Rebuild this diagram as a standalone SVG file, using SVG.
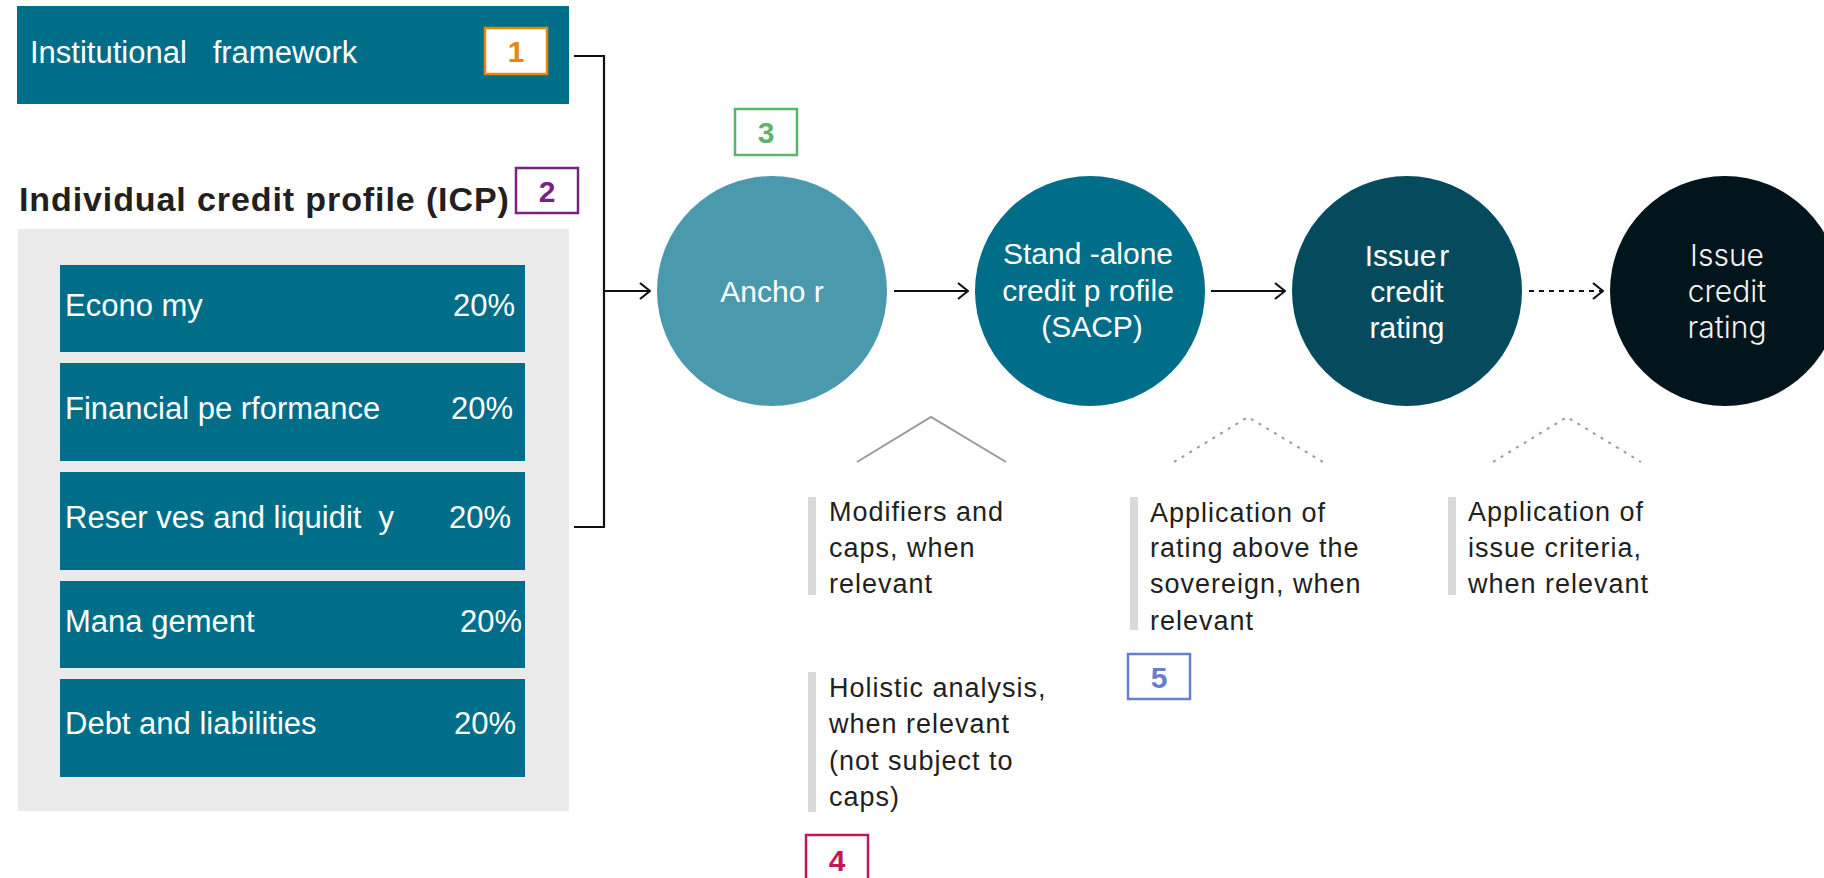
<svg xmlns="http://www.w3.org/2000/svg" width="1824" height="878" viewBox="0 0 1824 878">
<style>
.bx{fill:#016E89}
.lbl{font-family:"Liberation Sans",Arial,sans-serif;font-size:31px;fill:#fff}
.num{font-family:"Liberation Sans",Arial,sans-serif;font-size:30px;font-weight:bold;text-anchor:middle}
.nb{fill:#fff;stroke-width:2.5}
.ctx{font-family:"Liberation Sans",Arial,sans-serif;font-size:30px;fill:#fff;text-anchor:middle}
.ictx{font-family:Inter,"Liberation Sans",sans-serif;font-weight:300;font-size:30px;fill:#F2F2F2;text-anchor:middle}
.ann{font-family:"Liberation Sans",Arial,sans-serif;font-size:27px;fill:#231F20;letter-spacing:1px}
.bar{fill:#D9D9D9}
.ln{fill:none;stroke:#111;stroke-width:2.2}
.caret{fill:none;stroke:#9A9A9A;stroke-width:2}
</style>
<defs>
<marker id="ah" viewBox="0 0 12 18" refX="11" refY="9" markerWidth="12" markerHeight="18" markerUnits="userSpaceOnUse" orient="auto">
<path d="M1,1 L11,9 L1,17" fill="none" stroke="#111" stroke-width="2.2"/>
</marker>
</defs>
<rect width="1824" height="878" fill="#fff"/>

<g id="institutional-framework">
<rect class="bx" x="17" y="6" width="552" height="98"/>
<text class="lbl" x="30" y="63" xml:space="preserve">Institutional   framework</text>
</g>
<g id="badge-1">
<rect class="nb" x="485" y="28" width="62" height="46" stroke="#E8850C"/>
<text class="num" x="516" y="62" fill="#E8850C">1</text>
</g>

<g id="icp-heading">
<text x="19" y="211" font-family="'Liberation Sans',Arial,sans-serif" font-size="34" font-weight="bold" fill="#231F20" letter-spacing="0.9">Individual credit profile (ICP)</text>
</g>
<g id="badge-2">
<rect class="nb" x="516" y="168" width="62" height="45" stroke="#7A2282"/>
<text class="num" x="547" y="202" fill="#7A2282">2</text>
</g>

<g id="icp-panel">
<rect x="18" y="229" width="551" height="582" fill="#EAEAEA"/>
</g>
<g id="economy">
<rect class="bx" x="60" y="265" width="465" height="87"/>
<text class="lbl" x="65" y="316">Econo my</text>
<text class="lbl" x="453" y="316">20%</text>
</g>
<g id="financial-performance">
<rect class="bx" x="60" y="363" width="465" height="98"/>
<text class="lbl" x="65" y="419">Financial pe rformance</text>
<text class="lbl" x="451" y="419">20%</text>
</g>
<g id="reserves-liquidity">
<rect class="bx" x="60" y="472" width="465" height="98"/>
<text class="lbl" x="65" y="528" xml:space="preserve">Reser ves and liquidit  y</text>
<text class="lbl" x="449" y="528">20%</text>
</g>
<g id="management">
<rect class="bx" x="60" y="581" width="465" height="87"/>
<text class="lbl" x="65" y="632">Mana gement</text>
<text class="lbl" x="460" y="632">20%</text>
</g>
<g id="debt-liabilities">
<rect class="bx" x="60" y="679" width="465" height="98"/>
<text class="lbl" x="65" y="734">Debt and liabilities</text>
<text class="lbl" x="454" y="734">20%</text>
</g>

<g id="connectors">
<path class="ln" d="M574,56 H604 V527 H574"/>
<path class="ln" d="M604,291 H650" marker-end="url(#ah)"/>
<path class="ln" d="M894,291 H968" marker-end="url(#ah)"/>
<path class="ln" d="M1211,291 H1285" marker-end="url(#ah)"/>
<path class="ln" d="M1529,291 H1603" stroke-dasharray="5 5" marker-end="url(#ah)"/>
<path class="caret" d="M857,462 L931,417 L1006,462"/>
<path class="caret" d="M1174,462 L1248,417 L1323,462" stroke-dasharray="3 6"/>
<path class="caret" d="M1493,462 L1567,417 L1641,462" stroke-dasharray="3 6"/>
</g>

<g id="badge-3">
<rect class="nb" x="735" y="109" width="62" height="46" stroke="#5DB36B"/>
<text class="num" x="766" y="143" fill="#5DB36B">3</text>
</g>

<g id="anchor">
<circle cx="772" cy="291" r="115" fill="#4A99AD"/>
<text class="ctx" x="772" y="302">Ancho r</text>
</g>
<g id="sacp">
<circle cx="1090" cy="291" r="115" fill="#016E89"/>
<text class="ctx" x="1088" y="264">Stand -alone</text>
<text class="ctx" x="1088" y="301">credit p rofile</text>
<text class="ctx" x="1092" y="337">(SACP)</text>
</g>
<g id="issuer-credit-rating">
<circle cx="1407" cy="291" r="115" fill="#064B5D"/>
<text class="ctx" x="1407" y="266">Issue<tspan dx="3">r</tspan></text>
<text class="ctx" x="1407" y="302">credit</text>
<text class="ctx" x="1407" y="338">rating</text>
</g>
<g id="issue-credit-rating">
<circle cx="1725" cy="291" r="115" fill="#02151C"/>
<text class="ictx" x="1727" y="266">Issue</text>
<text class="ictx" x="1727" y="302">credit</text>
<text class="ictx" x="1727" y="338">rating</text>
</g>

<g id="modifiers-note">
<rect class="bar" x="808" y="497" width="8" height="98"/>
<text class="ann" x="829" y="521">Modifiers and</text>
<text class="ann" x="829" y="557">caps, when</text>
<text class="ann" x="829" y="593">relevant</text>
</g>
<g id="holistic-note">
<rect class="bar" x="808" y="672" width="8" height="140"/>
<text class="ann" x="829" y="697">Holistic analysis,</text>
<text class="ann" x="829" y="733">when relevant</text>
<text class="ann" x="829" y="770">(not subject to</text>
<text class="ann" x="829" y="806">caps)</text>
</g>
<g id="badge-4">
<rect class="nb" x="806" y="835" width="62" height="60" stroke="#C2185B"/>
<text class="num" x="837" y="871" fill="#C2185B">4</text>
</g>
<g id="sovereign-note">
<rect class="bar" x="1130" y="497" width="8" height="133"/>
<text class="ann" x="1150" y="522">Application of</text>
<text class="ann" x="1150" y="557">rating above the</text>
<text class="ann" x="1150" y="593">sovereign, when</text>
<text class="ann" x="1150" y="630">relevant</text>
</g>
<g id="badge-5">
<rect class="nb" x="1128" y="654" width="62" height="45" stroke="#6A7FCB"/>
<text class="num" x="1159" y="688" fill="#6A7FCB">5</text>
</g>
<g id="issue-criteria-note">
<rect class="bar" x="1448" y="497" width="8" height="98"/>
<text class="ann" x="1468" y="521">Application of</text>
<text class="ann" x="1468" y="557">issue criteria,</text>
<text class="ann" x="1468" y="593">when relevant</text>
</g>
</svg>
